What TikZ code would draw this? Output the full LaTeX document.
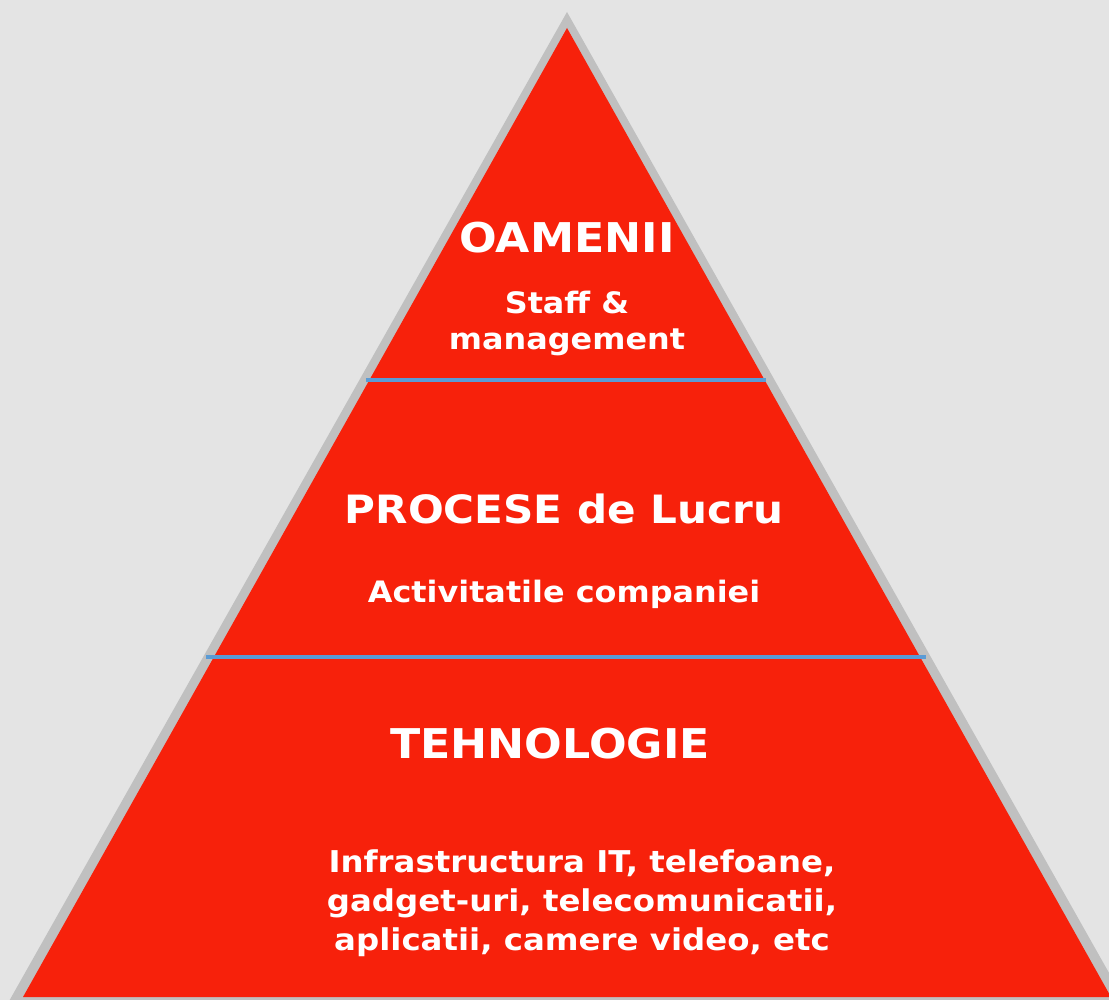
\documentclass[tikz,border=0pt]{standalone}
\usepackage{fontspec}
\setmainfont[FakeStretch=1.08]{DejaVu Sans}
\definecolor{bggray}{RGB}{228,228,228}
\definecolor{rimgray}{RGB}{192,192,192}
\definecolor{pyrred}{RGB}{247,33,11}
\definecolor{lineblue}{RGB}{91,155,213}
\begin{document}
\begin{tikzpicture}[x=1pt,y=-1pt,
    every node/.style={text=white,font=\bfseries,align=center,inner sep=0pt},
    title/.style={anchor=base,font=\fontsize{41}{49}\bfseries\selectfont},
    sub/.style={anchor=base,font=\fontsize{29.5}{36}\bfseries\selectfont},
    sep/.style={draw=lineblue,line width=4pt}]
\useasboundingbox (0,0) rectangle (1109,1000);
\clip (0,0) rectangle (1109,1000);
\fill[bggray] (0,0) rectangle (1109,1000);
% pyramid: grey rim, then red body
\fill[rimgray] (567,12) -- (8,1003) -- (1126,1003) -- cycle;
\fill[pyrred] (567,28) -- (23,997) -- (1111,997) -- cycle;
% level separators
\draw[sep] (366,380) -- (766,380);
\draw[sep] (206,657) -- (926,657);
% top level
\node[title] (oameni) at (567,253) {OAMENII};
\node[sub] (staff) at (567,314) {Staff \&};
\node[sub] (mgmt) at (567,350) {management};
% middle level
\node[title,font=\fontsize{39}{47}\bfseries\selectfont] (procese) at (564,523) {PROCESE de Lucru};
\node[sub] (activ) at (564,602) {Activitatile companiei};
% bottom level
\node[title] (tehno) at (550,758) {TEHNOLOGIE};
\node[sub,font=\fontsize{30}{39}\bfseries\selectfont] (infra) at (582,950)
    {Infrastructura IT, telefoane,\\gadget-uri, telecomunicatii,\\aplicatii, camere video, etc};
\end{tikzpicture}
\end{document}
